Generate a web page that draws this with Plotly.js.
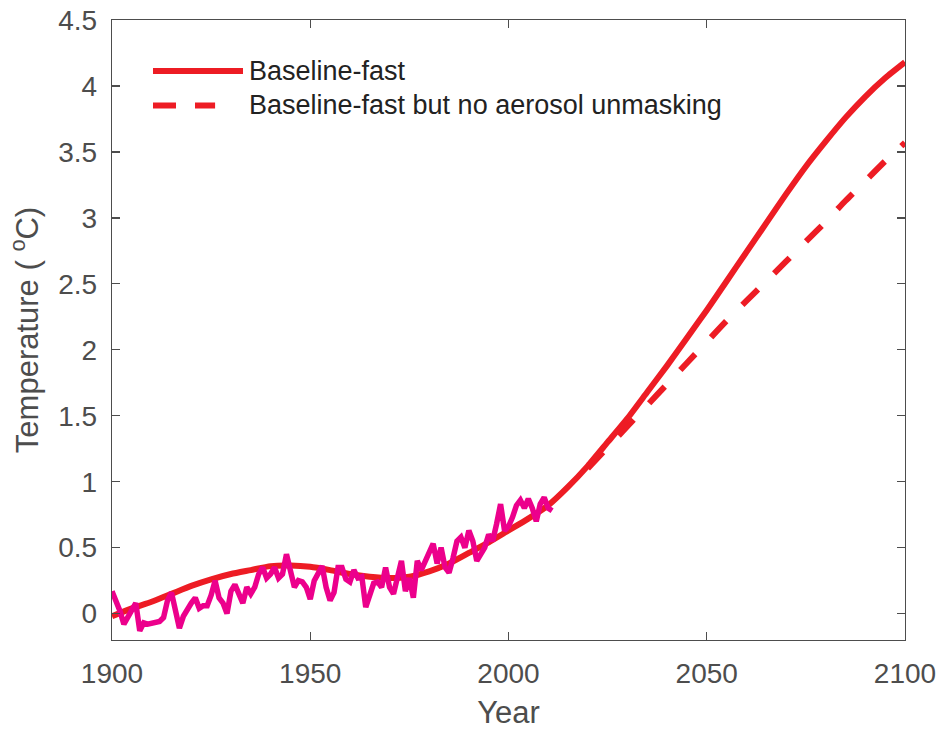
<!DOCTYPE html>
<html>
<head>
<meta charset="utf-8">
<script src="https://cdn.plot.ly/plotly-3.0.1.min.js"></script>
<style>
  html, body { margin: 0; padding: 0; background: #fff; }
  #chart { width: 940px; height: 730px; }
</style>
</head>
<body>
<div id="chart"></div>
<script>
// Observed annual temperature anomaly, 1900-2011
const obsYears = [];
for (let y = 1900; y <= 2011; y++) obsYears.push(y);
const obsTemp = [
  0.17, 0.10, 0.02, -0.08, -0.02, 0.02, 0.08, -0.13, -0.07, -0.08,
  -0.07, -0.06, -0.06, -0.03, 0.10, 0.16, 0.02, -0.11, -0.02, 0.04,
  0.08, 0.12, 0.04, 0.06, 0.06, 0.14, 0.25, 0.12, 0.08, 0.00,
  0.17, 0.22, 0.14, 0.08, 0.20, 0.15, 0.20, 0.30, 0.35, 0.27,
  0.30, 0.35, 0.27, 0.30, 0.45, 0.30, 0.20, 0.25, 0.24, 0.20,
  0.11, 0.25, 0.30, 0.36, 0.20, 0.10, 0.16, 0.35, 0.35, 0.26,
  0.24, 0.33, 0.27, 0.28, 0.05, 0.14, 0.23, 0.24, 0.20, 0.35,
  0.20, 0.15, 0.30, 0.40, 0.17, 0.27, 0.12, 0.40, 0.33, 0.40,
  0.45, 0.53, 0.38, 0.50, 0.35, 0.31, 0.42, 0.55, 0.58, 0.50,
  0.63, 0.55, 0.40, 0.45, 0.50, 0.60, 0.55, 0.68, 0.83, 0.63,
  0.66, 0.73, 0.82, 0.86, 0.80, 0.87, 0.80, 0.70, 0.83, 0.88,
  0.80, 0.78
];

// Baseline-fast scenario (5-year steps)
const baseYears = [1900, 1905, 1910, 1915, 1920, 1925, 1930, 1935, 1940, 1945,
  1950, 1955, 1960, 1965, 1970, 1975, 1980, 1985, 1990, 1995,
  2000, 2005, 2010, 2015, 2020, 2025, 2030, 2035, 2040, 2045,
  2050, 2055, 2060, 2065, 2070, 2075, 2080, 2085, 2090, 2095, 2100];
const baseTemp = [-0.02, 0.04, 0.09, 0.15, 0.21, 0.26, 0.30, 0.33, 0.36, 0.365,
  0.355, 0.33, 0.30, 0.28, 0.27, 0.28, 0.32, 0.38, 0.46, 0.54,
  0.63, 0.72, 0.82, 0.96, 1.12, 1.30, 1.48, 1.68, 1.88, 2.09,
  2.30, 2.52, 2.74, 2.96, 3.18, 3.39, 3.58, 3.76, 3.92, 4.06, 4.18];

// Baseline-fast without aerosol unmasking
const noAeroYears = [2020, 2025, 2030, 2035, 2040, 2045, 2050, 2055, 2060,
  2065, 2070, 2075, 2080, 2085, 2090, 2095, 2100];
const noAeroTemp = [1.10, 1.26, 1.42, 1.58, 1.74, 1.90, 2.06, 2.22, 2.37,
  2.52, 2.67, 2.82, 2.97, 3.13, 3.28, 3.43, 3.57];

const xTicks = [1900, 1950, 2000, 2050, 2100];
const yTicks = [0, 0.5, 1, 1.5, 2, 2.5, 3, 3.5, 4, 4.5];
const yTickText = ['0', '0.5', '1', '1.5', '2', '2.5', '3', '3.5', '4', '4.5'];

const legendNames = ['Baseline-fast', 'Baseline-fast but no aerosol unmasking'];

const RED = '#ED1C24';
const MAGENTA = '#EC008C';
const AXIS = '#4d4d4d';
const FONT = 'Liberation Sans, Arial, Helvetica, sans-serif';

const traces = [
  {
    x: noAeroYears, y: noAeroTemp, type: 'scatter', mode: 'lines',
    name: legendNames[1],
    line: { color: RED, width: 6, dash: '22px,23px', shape: 'spline', smoothing: 0.6 },
    hoverinfo: 'skip'
  },
  {
    x: baseYears, y: baseTemp, type: 'scatter', mode: 'lines',
    name: legendNames[0],
    line: { color: RED, width: 6, shape: 'spline', smoothing: 0.6 },
    hoverinfo: 'skip'
  },
  {
    x: obsYears, y: obsTemp, type: 'scatter', mode: 'lines',
    name: 'Observed',
    line: { color: MAGENTA, width: 5.5 },
    hoverinfo: 'skip'
  }
];

// hand-drawn legend in the upper-left corner of the axes
const legX0 = 0.0517, legX1 = 0.1652, legDashX1 = 0.1300, legTextX = 0.170;
const legY = [0.9177, 0.8621];

const layout = {
  width: 940, height: 730,
  margin: { l: 112, r: 35, t: 20, b: 90, pad: 0 },
  paper_bgcolor: '#ffffff',
  plot_bgcolor: '#ffffff',
  showlegend: false,
  font: { family: FONT, color: AXIS },
  xaxis: {
    range: [1900, 2100],
    tickvals: xTicks,
    ticktext: xTicks.map(String),
    ticks: 'inside', ticklen: 8, tickwidth: 1.3, tickcolor: AXIS,
    showline: true, linecolor: AXIS, linewidth: 1.3, mirror: 'ticks',
    showgrid: false, zeroline: false,
    tickfont: { size: 28, color: AXIS, family: FONT },
    ticklabelstandoff: 8,
    title: { text: 'Year', font: { size: 31, color: AXIS, family: FONT }, standoff: 14 },
    automargin: false
  },
  yaxis: {
    range: [-0.2, 4.5],
    tickvals: yTicks,
    ticktext: yTickText,
    ticks: 'inside', ticklen: 8, tickwidth: 1.3, tickcolor: AXIS,
    showline: true, linecolor: AXIS, linewidth: 1.3, mirror: 'ticks',
    showgrid: false, zeroline: false,
    tickfont: { size: 28, color: AXIS, family: FONT },
    ticklabelstandoff: 8,
    title: { text: 'Temperature ( <sup>o</sup>C)', font: { size: 31, color: AXIS, family: FONT }, standoff: 10 },
    automargin: false
  },
  shapes: [
    { type: 'line', xref: 'paper', yref: 'paper', x0: legX0, x1: legX1, y0: legY[0], y1: legY[0],
      line: { color: RED, width: 6 } },
    { type: 'line', xref: 'paper', yref: 'paper', x0: legX0, x1: legDashX1, y0: legY[1], y1: legY[1],
      line: { color: RED, width: 6, dash: '23px,19px' } }
  ],
  annotations: legendNames.map((t, i) => ({
    xref: 'paper', yref: 'paper', x: legTextX, y: legY[i],
    xanchor: 'left', yanchor: 'middle', showarrow: false,
    text: t, font: { size: 27, color: '#222222', family: FONT }
  }))
};

Plotly.newPlot('chart', traces, layout, { displayModeBar: false, staticPlot: true });
</script>
</body>
</html>
